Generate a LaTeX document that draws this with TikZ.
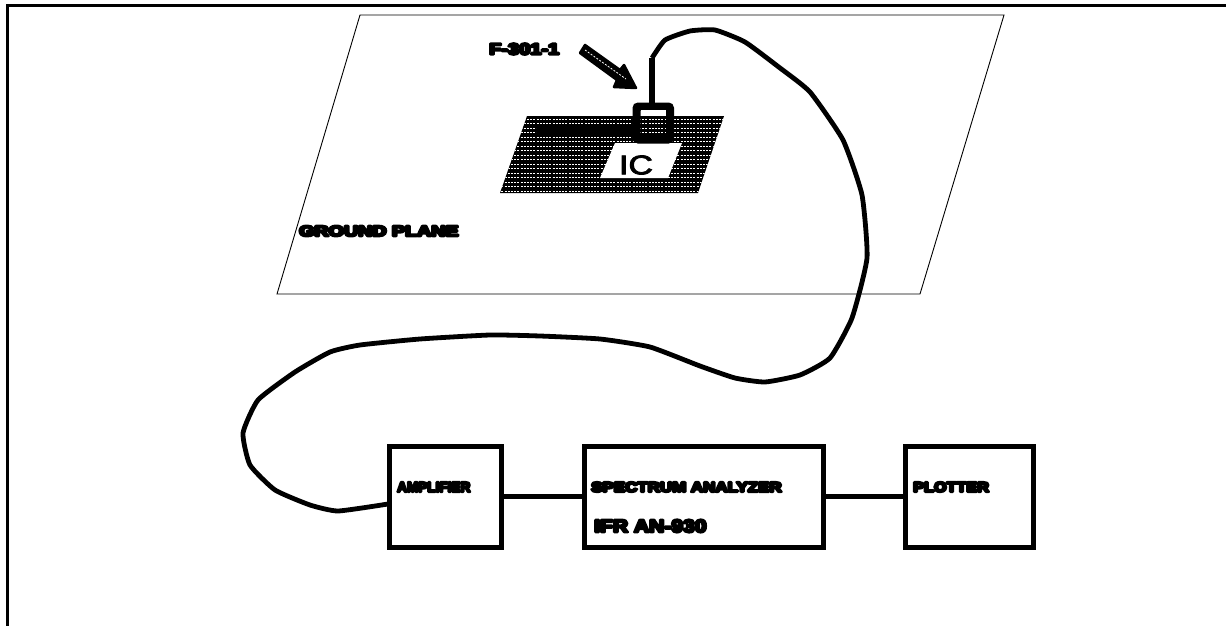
\documentclass[tikz,border=0pt]{standalone}
\usepackage{graphicx}
\usepackage{fontspec}
\setmainfont{Liberation Sans}
\newfontfamily\fatfont{Liberation Sans Bold}
\newcommand{\widelabel}[2]{\special{pdf:code q 2 Tr 2.4 w 1 j}\scalebox{#1}[1]{#2}\special{pdf:code Q}}
\newcommand{\iclabel}[1]{\special{pdf:code q 2 Tr 0.8 w}\scalebox{1.25}[1]{#1}\special{pdf:code Q}}
\tikzset{
  blockbox/.style={draw,line width=5pt,minimum height=101pt,inner sep=0pt},
  wire/.style={line width=4.8pt,line join=round},
  caption/.style={anchor=west,inner sep=0pt,font=\fatfont\fontsize{14}{15}\selectfont},
}
\begin{document}
\begin{tikzpicture}[x=1pt,y=-1pt]
\useasboundingbox (0,0) rectangle (1226,626);
\draw[line width=3pt] (7,626) -- (7,6) -- (1226,6);

% ground plane
\draw[line width=0.9pt] (360,15) -- (1004,15) -- (920,294) -- (277,294) -- cycle;
\node[caption,font=\fatfont\fontsize{15}{16}\selectfont] (plane) at (299,231) {\widelabel{1.31}{GROUND PLANE}};

% hatched footprint
\fill (527,116) -- (724,116) -- (698,193) -- (500,193) -- cycle;
\begin{scope}
\clip (527,116) -- (724,116) -- (698,193) -- (500,193) -- cycle;
\foreach \row in {119,123.5,...,192}
  \draw[white,line width=0.8pt,dash pattern=on 2pt off 1.2pt] (495,\row) -- (730,\row);
\end{scope}
\fill (537,126) rectangle (633,136);
\fill[white] (615,143) -- (682,143) -- (668,178) -- (600,178) -- cycle;
\node (ic) at (636,165) {\fontsize{27}{28}\selectfont\iclabel{IC}};

% probe
\draw[line width=8pt,rounded corners=2pt] (636.5,106.5) rectangle (670,139.5);
\fill[white] (641,110) rectangle (666,116);
\draw[line width=6.5pt] (652,104) -- (652,58);
\coordinate (tip) at (652,58);
\node[caption,font=\fatfont\fontsize{16}{17}\selectfont] (probe) at (489,49) {\widelabel{1.25}{F-301-1}};

% arrow
\fill[line join=round,draw,line width=2.5pt] (580,53) -- (585,45) -- (620,70) -- (624,65) -- (636,88) -- (614,87) -- (617,80) -- cycle;
\draw[white,line width=0.8pt,dash pattern=on 2pt off 1.5pt] (585,50) -- (626,79);

% blocks
\node[blockbox,minimum width=112pt] (amplifier) at (445,496.5) {};
\node[blockbox,minimum width=239pt] (analyzer) at (703.5,496.5) {};
\node[blockbox,minimum width=128pt] (plotter) at (969,496.5) {};
\node[caption] (amplabel) at (397,487) {\widelabel{0.97}{AMPLIFIER}};
\node[caption] (speclabel) at (591,487) {\widelabel{1.21}{SPECTRUM ANALYZER}};
\node[caption,font=\fatfont\fontsize{18}{19}\selectfont] (modellabel) at (594,526) {\widelabel{1.17}{IFR AN-930}};
\node[caption] (plotlabel) at (913,487) {\widelabel{1.16}{PLOTTER}};
\draw[wire] (amplifier) -- (analyzer);
\draw[wire] (analyzer) -- (plotter);

% cable
\draw[wire] plot[smooth,tension=0.3] coordinates {(tip) (665,40) (690,31) (715,30) (745,42) (780,68) (810,92) (843,140) (862,195) (867,258) (852,318) (830,358) (800,375) (765,382) (735,378) (700,366) (650,347) (600,339) (540,336) (490,335) (420,339) (360,345) (330,352) (295,372) (258,400) (243,433) (250,465) (275,490) (310,505) (338,511) (388,504)};
\end{tikzpicture}
\end{document}
